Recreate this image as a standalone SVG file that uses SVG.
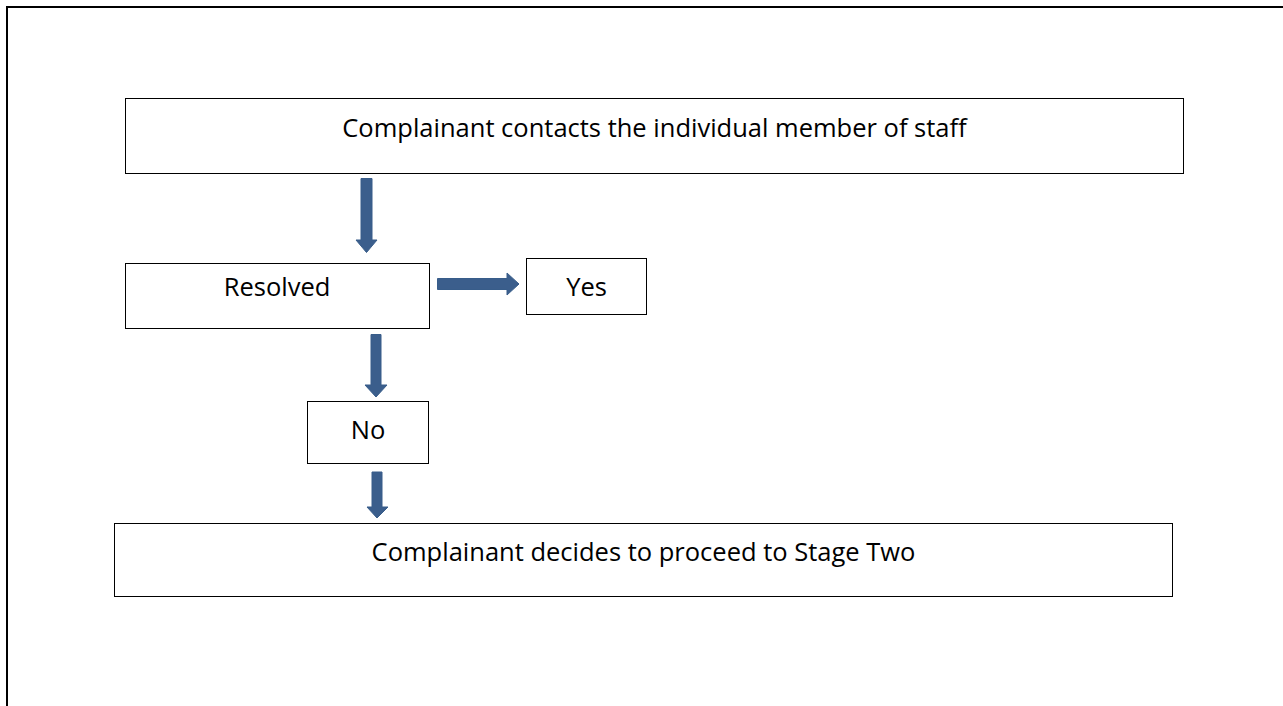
<svg xmlns="http://www.w3.org/2000/svg" width="1283" height="706" viewBox="0 0 1283 706">
<style>
.box{fill:#fff;stroke:#000;stroke-width:1}
.t{font-family:"Open Sans","Liberation Sans",sans-serif;font-size:25.5px;fill:#000;text-anchor:middle}
.arr{fill:#3B5E8C;stroke:#385D8A;stroke-width:1}
</style>
<rect width="1283" height="706" fill="#fff"/>
<path d="M7 706 V7 H1283" fill="none" stroke="#000" stroke-width="2"/>
<g id="n-contact"><rect class="box" x="125.5" y="98.5" width="1058" height="75"/><text class="t" x="654.5" y="136.5">Complainant contacts the individual member of staff</text></g>
<g id="n-resolved"><rect class="box" x="125.5" y="263.5" width="304" height="65"/><text class="t" x="277" y="296">Resolved</text></g>
<g id="n-yes"><rect class="box" x="526.5" y="258.5" width="120" height="56"/><text class="t" x="586.5" y="296">Yes</text></g>
<g id="n-no"><rect class="box" x="307.5" y="401.5" width="121" height="62"/><text class="t" x="368" y="439">No</text></g>
<g id="n-stage2"><rect class="box" x="114.5" y="523.5" width="1058" height="73"/><text class="t" x="643.5" y="561">Complainant decides to proceed to Stage Two</text></g>
<g id="connectors">
<polygon class="arr" points="361,178.5 372,178.5 372,240 377,240 366.5,252.5 356,240 361,240"/>
<polygon class="arr" points="437.5,278.5 507,278.5 507,273 519,284 507,295 507,289.5 437.5,289.5"/>
<polygon class="arr" points="371,334.5 381,334.5 381,385 387,385 376,397 365,385 371,385"/>
<polygon class="arr" points="372,472 382,472 382,507 388,507 377,518 367,507 372,507"/>
</g>
</svg>
